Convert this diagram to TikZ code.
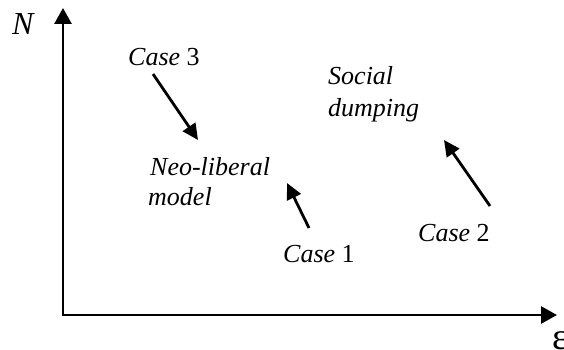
\documentclass[tikz,border=0pt]{standalone}
\usepackage{fontspec}
\setmainfont{Liberation Serif}
\usetikzlibrary{arrows.meta}
\begin{document}
\begin{tikzpicture}[x=1pt,y=-1pt,
  lbl/.style={anchor=base west,inner sep=0pt,font=\fontsize{26}{30}\selectfont\itshape},
  axis/.style={line width=2.8pt,-{Triangle[length=16pt,width=17pt]}},
  mv/.style={line width=2.8pt,-{Triangle[length=16pt,width=15pt]}}]
\useasboundingbox (0,0) rectangle (564,350);
\begin{scope}
\clip (0,0) rectangle (564,350);
% axes
\coordinate (O) at (63,315);
\coordinate (ytip) at (63,8);
\coordinate (xtip) at (557,315);
\draw[axis] ([yshift=1.4pt]O) -- (ytip);
\draw[axis] ([xshift=-1.4pt]O) -- (xtip);
\node[lbl,font=\fontsize{32}{34}\selectfont\itshape] (N) at (12,35) {N};
\node[anchor=base west,inner sep=0pt,font=\fontsize{38}{40}\selectfont] (eps) at (552,349) {ε};
% labels
\node[lbl] (c3) at (128,66) {Case\/ \upshape 3};
\node[lbl] (neo) at (150,175) {Neo-liberal};
\node[lbl] (model) at (148,205) {model};
\node[lbl] (soc) at (328,85) {Social};
\node[lbl] (dump) at (328,117) {dumping};
\node[lbl] (c1) at (283,262) {Case\/ \upshape 1};
\node[lbl] (c2) at (418,241) {Case\/ \upshape 2};
% movement arrows
\coordinate (a3s) at (153,74); \coordinate (a3e) at (198,140);
\coordinate (a1s) at (309,228); \coordinate (a1e) at (287,183);
\coordinate (a2s) at (490,206); \coordinate (a2e) at (444,140);
\draw[mv] (a3s) -- (a3e);
\draw[mv] (a1s) -- (a1e);
\draw[mv] (a2s) -- (a2e);
\end{scope}
\end{tikzpicture}
\end{document}
